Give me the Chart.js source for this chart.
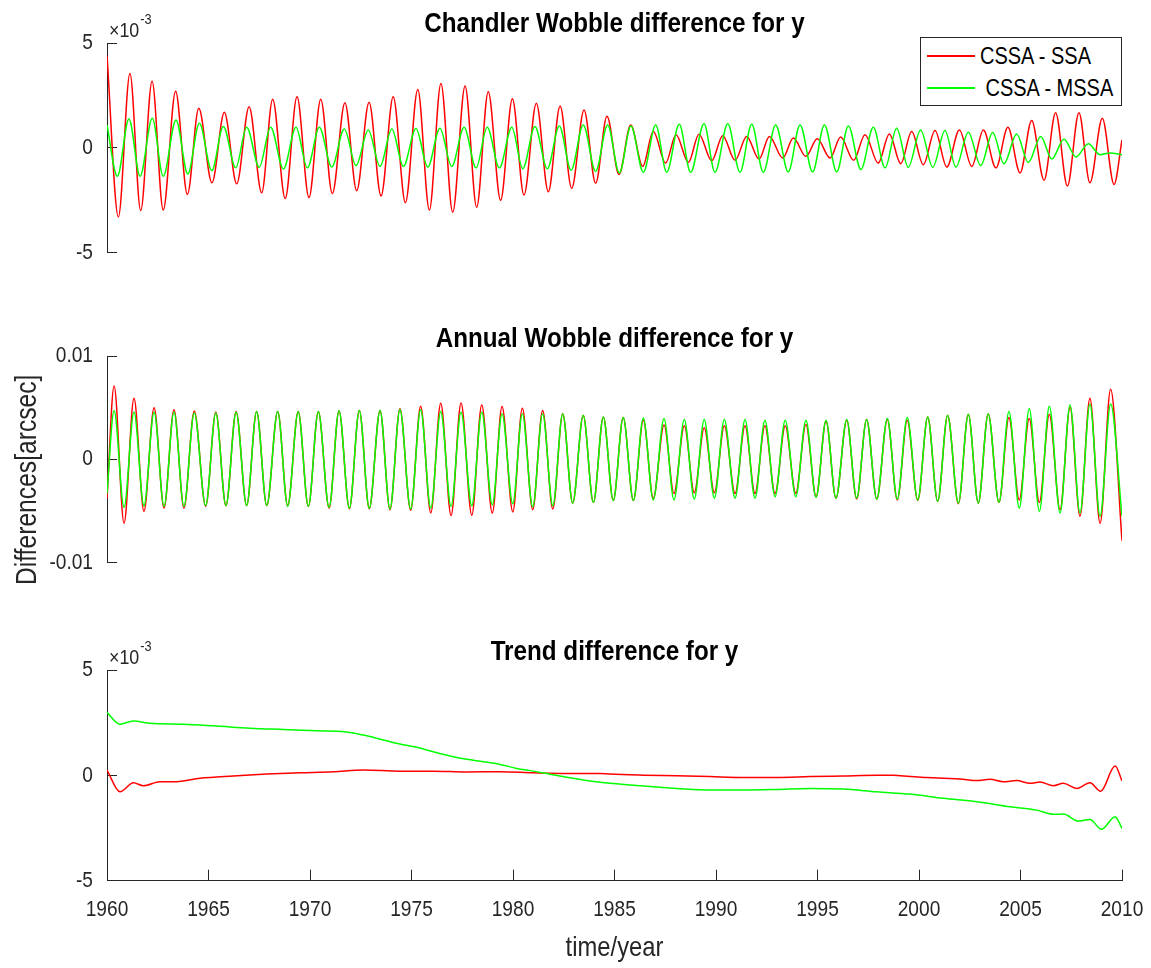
<!DOCTYPE html>
<html><head><meta charset="utf-8">
<script src="https://cdn.jsdelivr.net/npm/chart.js@4"></script>
<style>
html,body{margin:0;padding:0;background:#fff;}
#wrap{position:relative;width:1151px;height:968px;overflow:hidden;background:#fff;}
#wrap canvas{position:absolute;left:0;}
#legend{position:absolute;left:920px;top:37px;width:202px;height:69px;border:1px solid #262626;background:#fff;box-sizing:border-box;font-family:'Liberation Sans',Arial,Helvetica,sans-serif;}
.lg-row{position:absolute;left:6px;height:24px;display:flex;align-items:center;}
.lg-line{display:inline-block;width:48px;height:1.5px;margin-right:5px;}
.lg-text{font-size:23.5px;color:#000;white-space:pre;display:inline-block;transform:scaleX(0.85);transform-origin:0 50%;}
</style></head>
<body><div id="wrap">
<canvas id="c1" width="1151" height="290" style="top:0"></canvas>
<canvas id="c2" width="1151" height="310" style="top:290px"></canvas>
<canvas id="c3" width="1151" height="368" style="top:600px"></canvas>
<div id="legend"></div>
</div>
<script>
// ---------------- DATA (values in units of 1e-3 arcsec) ----------------
const seriesNames = ['CSSA - SSA', ' CSSA - MSSA'];
const xTickValues = [1960,1965,1970,1975,1980,1985,1990,1995,2000,2005,2010];
const xTickLabels = ['1960','1965','1970','1975','1980','1985','1990','1995','2000','2005','2010'];
const yTicksSmall = [-5,0,5];
const yLabelsSmall = ['-5','0','5'];
const yTicksAnnual = [-10,0,10];
const yLabelsAnnual = ['-0.01','0','0.01'];
const expText = ['\u00d710','-3'];

// Chandler wobble, CSSA - SSA (extrema)
const chandlerSsaT = [1960.00,1960.56,1961.13,1961.66,1962.22,1962.77,1963.38,1963.96,1964.52,1965.17,
1965.78,1966.39,1967.00,1967.62,1968.16,1968.78,1969.36,1969.95,1970.53,1971.10,
1971.72,1972.30,1972.91,1973.50,1974.10,1974.70,1975.31,1975.88,1976.45,1977.03,
1977.64,1978.21,1978.78,1979.39,1979.97,1980.54,1981.15,1981.74,1982.32,1982.89,
1983.50,1984.07,1984.63,1985.22,1985.80,1986.39,1986.91,1987.52,1988.03,1988.64,
1989.16,1989.79,1990.33,1990.94,1991.51,1992.12,1992.63,1993.29,1993.81,1994.43,
1994.99,1995.62,1996.14,1996.78,1997.34,1997.99,1998.54,1999.10,1999.64,2000.21,
2000.79,2001.37,2001.99,2002.60,2003.17,2003.79,2004.38,2004.98,2005.55,2006.16,
2006.73,2007.31,2007.88,2008.42,2009.03,2009.61,2010.00];
const chandlerSsaV = [4.4,-3.3,3.54,-3.0,3.17,-2.97,2.7,-2.23,1.88,-1.67,
1.69,-1.72,1.96,-2.15,2.32,-2.42,2.43,-2.38,2.32,-2.19,
2.15,-2.05,2.17,-2.3,2.43,-2.62,2.78,-2.97,3.07,-3.08,
2.95,-2.84,2.67,-2.51,2.34,-2.26,2.12,-2.1,1.99,-1.94,
1.8,-1.7,1.5,-1.28,1.09,-0.89,0.77,-0.73,0.62,-0.7,
0.65,-0.62,0.57,-0.6,0.54,-0.54,0.54,-0.49,0.46,-0.41,
0.43,-0.49,0.51,-0.6,0.62,-0.73,0.66,-0.76,0.77,-0.81,
0.82,-0.92,0.85,-0.89,0.85,-0.96,0.98,-1.2,1.3,-1.55,
1.67,-1.83,1.67,-1.67,1.41,-1.75,0.38];

// Chandler wobble, CSSA - MSSA
const chandlerMssaT = [1960.00,1960.51,1961.08,1961.63,1962.23,1962.77,1963.40,1963.98,1964.55,1965.16,
1965.73,1966.34,1966.88,1967.50,1968.06,1968.69,1969.31,1969.87,1970.46,1971.07,
1971.69,1972.27,1972.87,1973.45,1974.03,1974.60,1975.22,1975.80,1976.40,1976.98,
1977.59,1978.18,1978.73,1979.33,1979.94,1980.48,1981.08,1981.69,1982.28,1982.86,
1983.46,1984.07,1984.66,1985.24,1985.81,1986.42,1987.03,1987.57,1988.19,1988.75,
1989.41,1989.95,1990.58,1991.18,1991.76,1992.33,1992.94,1993.56,1994.14,1994.76,
1995.34,1995.95,1996.52,1997.14,1997.75,1998.33,1998.90,1999.47,2000.08,2000.68,
2001.28,2001.82,2002.43,2003.04,2003.63,2004.19,2004.81,2005.38,2006.00,2006.54,
2007.14,2007.73,2008.34,2008.92,2009.41,2010.00];
const chandlerMssaV = [1.09,-1.36,1.37,-1.36,1.41,-1.36,1.33,-1.25,1.17,-1.09,
1.01,-0.96,0.98,-0.93,0.98,-1.01,0.98,-0.96,0.98,-0.92,
0.89,-0.85,0.85,-0.89,0.89,-0.89,0.92,-0.92,0.93,-0.89,
0.98,-0.96,0.98,-0.96,0.98,-1.0,1.01,-1.0,1.04,-1.07,
1.09,-1.12,1.09,-1.2,1.04,-1.17,1.09,-1.17,1.12,-1.17,
1.14,-1.17,1.14,-1.17,1.12,-1.17,1.09,-1.15,1.09,-1.15,
1.09,-1.15,1.04,-1.04,0.98,-0.96,0.93,-0.93,0.85,-0.93,
0.82,-0.92,0.74,-0.85,0.73,-0.76,0.66,-0.7,0.54,-0.54,
0.41,-0.44,0.19,-0.33,-0.25,-0.33];

// Annual wobble (both series share extrema times)
const annualT = [1960.00,
1960.35,1960.84,1961.33,1961.82,1962.32,1962.81,1963.30,1963.79,1964.30,1964.86,
1965.36,1965.86,1966.36,1966.88,1967.37,1967.87,1968.41,1968.90,1969.42,1969.92,
1970.41,1970.94,1971.43,1971.94,1972.43,1972.92,1973.45,1973.94,1974.43,1974.96,
1975.45,1975.95,1976.44,1976.95,1977.44,1977.97,1978.46,1978.98,1979.46,1979.99,
1980.46,1980.97,1981.46,1981.96,1982.45,1982.94,1983.46,1983.96,1984.45,1984.94,
1985.43,1985.93,1986.42,1986.91,1987.44,1987.93,1988.44,1988.93,1989.42,1989.92,
1990.41,1990.94,1991.43,1991.92,1992.41,1992.91,1993.41,1993.93,1994.43,1994.93,
1995.42,1995.91,1996.44,1996.93,1997.42,1997.92,1998.44,1998.93,1999.42,1999.94,
2000.43,2000.92,2001.41,2001.94,2002.43,2002.92,2003.41,2003.94,2004.43,2004.94,
2005.43,2005.93,2006.42,2006.95,2007.44,2007.93,2008.42,2008.92,2009.44,
2010.00];
const annualSsaV = [-3.8,
7.09,-6.20,5.90,-5.04,4.98,-4.73,4.79,-4.73,4.67,-4.57,
4.57,-4.50,4.63,-4.50,4.63,-4.50,4.63,-4.50,4.63,-4.57,
4.63,-4.73,4.70,-4.79,4.73,-4.79,4.73,-4.88,4.89,-4.94,
5.14,-5.20,5.42,-5.45,5.45,-5.42,5.26,-5.20,5.10,-5.10,
4.95,-4.88,4.73,-4.82,4.41,-4.25,4.25,-4.19,4.10,-4.00,
4.04,-4.00,3.78,-3.78,3.31,-3.31,3.24,-3.24,3.06,-3.24,
3.24,-3.31,3.24,-3.31,3.24,-3.31,3.24,-3.31,3.37,-3.62,
3.69,-3.78,3.78,-3.85,3.85,-3.87,3.85,-3.94,3.78,-4.00,
4.10,-4.09,4.25,-4.31,4.35,-4.25,4.41,-4.19,4.04,-3.94,
3.94,-4.19,4.35,-4.88,5.04,-5.51,5.90,-6.20,6.78,
-7.9];
const annualMssaV = [-3.3,
4.73,-4.66,4.57,-4.50,4.57,-4.57,4.57,-4.57,4.50,-4.50,
4.50,-4.50,4.57,-4.50,4.63,-4.50,4.63,-4.57,4.63,-4.57,
4.63,-4.66,4.70,-4.73,4.73,-4.73,4.73,-4.82,4.82,-4.82,
4.79,-4.73,4.63,-4.57,4.57,-4.50,4.57,-4.41,4.41,-4.31,
4.41,-4.60,4.41,-4.50,4.41,-4.25,4.25,-4.19,4.10,-4.00,
4.04,-4.00,4.00,-3.94,3.94,-3.94,3.85,-3.85,3.85,-3.78,
3.85,-3.78,3.85,-3.78,3.78,-3.62,3.78,-3.62,3.78,-3.69,
3.78,-3.78,3.85,-3.78,3.85,-3.87,3.94,-3.87,4.04,-3.94,
4.10,-4.09,4.25,-4.25,4.35,-4.25,4.41,-4.19,4.63,-4.73,
4.89,-5.04,5.14,-5.20,5.26,-5.20,5.36,-5.51,5.36,
-5.5];

// Trend
const trendSsaT = [1960.00,1960.64,1961.30,1961.79,1962.61,1963.43,1964.58,1966.22,1967.86,1969.50,
1971.15,1972.63,1974.43,1976.07,1977.72,1979.36,1981.00,1982.65,1984.29,1984.78,
1986.42,1988.06,1989.70,1991.35,1992.99,1994.63,1996.27,1997.92,1998.73,1999.56,
2000.38,2001.20,2002.02,2002.84,2003.50,2004.15,2004.81,2005.47,2005.96,2006.62,
2007.11,2007.77,2008.42,2008.95,2009.66,2010.00];
const trendSsaV = [0.25,-0.78,-0.35,-0.49,-0.30,-0.30,-0.14,-0.03,0.06,0.12,
0.17,0.25,0.20,0.20,0.16,0.17,0.12,0.09,0.09,0.06,
0.01,-0.02,-0.06,-0.10,-0.10,-0.06,-0.03,0.00,0.00,-0.06,
-0.10,-0.14,-0.17,-0.25,-0.19,-0.30,-0.25,-0.38,-0.32,-0.49,
-0.38,-0.62,-0.35,-0.75,0.44,-0.26];
const trendMssaT = [1960.00,1960.64,1961.30,1962.12,1963.76,1965.40,1967.04,1968.69,1970.33,1971.72,
1972.63,1973.61,1974.43,1975.26,1976.07,1976.90,1977.72,1978.54,1979.36,1980.18,
1981.00,1981.82,1982.65,1983.46,1984.29,1984.78,1986.42,1988.06,1989.70,1991.35,
1992.99,1994.63,1996.27,1997.92,1999.56,2001.20,2002.84,2004.48,2005.80,2006.62,
2007.11,2007.85,2008.42,2008.99,2009.66,2010.00];
const trendMssaV = [2.99,2.43,2.58,2.47,2.43,2.34,2.24,2.18,2.12,2.07,
1.91,1.68,1.49,1.33,1.12,0.92,0.76,0.65,0.52,0.33,
0.20,0.05,-0.09,-0.22,-0.33,-0.38,-0.51,-0.62,-0.70,-0.70,
-0.67,-0.62,-0.65,-0.78,-0.89,-1.09,-1.25,-1.49,-1.65,-1.85,
-1.84,-2.17,-2.09,-2.56,-1.96,-2.52];

// ---------------- STYLE ----------------
const TEXT_SX = 0.85;
const FONT = "'Liberation Sans', Arial, Helvetica, sans-serif";
const AX = '#262626';
const RED = '#ff0000', GREEN = '#00ff00';
const TITLE_SIZE = 28.5, TITLE_LH = TITLE_SIZE * 1.2;
const TICK_SIZE = 22.5;

// condensed text rendering (figure text is horizontally compressed)
(function(){
  const P = CanvasRenderingContext2D.prototype;
  const fT = P.fillText, mT = P.measureText;
  P.fillText = function(t, x, y){
    this.save(); this.translate(x, y); this.scale(TEXT_SX, 1); fT.call(this, t, 0, 0); this.restore();
  };
  P.measureText = function(t){
    const m = mT.call(this, t);
    return {width: m.width * TEXT_SX,
      actualBoundingBoxAscent: m.actualBoundingBoxAscent, actualBoundingBoxDescent: m.actualBoundingBoxDescent,
      actualBoundingBoxLeft: m.actualBoundingBoxLeft * TEXT_SX, actualBoundingBoxRight: m.actualBoundingBoxRight * TEXT_SX,
      fontBoundingBoxAscent: m.fontBoundingBoxAscent, fontBoundingBoxDescent: m.fontBoundingBoxDescent};
  };
})();

function pts(t, v){ return t.map((x, i) => ({x: x, y: v[i]})); }

const expPlugin = {
  id: 'expLabel',
  afterDraw(chart, args, opts){
    if (!opts.display) return;
    const {ctx, chartArea} = chart;
    ctx.save();
    ctx.fillStyle = AX; ctx.textAlign = 'left'; ctx.textBaseline = 'alphabetic';
    ctx.font = '21px ' + FONT;
    const x0 = chartArea.left + 2;
    ctx.fillText(expText[0], x0, chartArea.top - 6);
    const w = ctx.measureText(expText[0]).width;
    ctx.font = '15px ' + FONT;
    ctx.fillText(expText[1], x0 + w + 1, chartArea.top - 19);
    ctx.restore();
  }
};

const htmlLegend = {
  id: 'htmlLegend',
  afterUpdate(chart, args, opts){
    if (!opts.containerID) return;
    const box = document.getElementById(opts.containerID);
    box.innerHTML = '';
    chart.data.datasets.forEach((ds, i) => {
      const row = document.createElement('div');
      row.className = 'lg-row'; row.style.top = opts.rowTops[i] + 'px';
      const sw = document.createElement('span'); sw.className = 'lg-line'; sw.style.background = ds.borderColor;
      const tx = document.createElement('span'); tx.className = 'lg-text'; tx.textContent = ds.label;
      row.append(sw, tx); box.append(row);
    });
  }
};

function yAxis(ticks, labels, title){
  return {
    type: 'linear', position: 'left', min: ticks[0], max: ticks[ticks.length-1],
    afterBuildTicks: s => { s.ticks = ticks.map(v => ({value: v})); },
    afterFit: s => { s.width = 107; },
    ticks: {callback: (v, i) => labels[i], color: AX, font: {family: FONT, size: TICK_SIZE}, padding: 24},
    grid: {drawOnChartArea: false, drawTicks: true, tickLength: -10, color: AX, lineWidth: 1},
    border: {display: true, color: AX, width: 1},
    title: title ? {display: true, text: title, color: AX, font: {family: FONT, size: 29}, padding: {top: 11, bottom: 0}} : {display: false}
  };
}

function makeChart(id, c){
  return new Chart(document.getElementById(id), {
    type: 'line',
    data: {datasets: [
      {label: seriesNames[0], data: c.red, borderColor: RED, backgroundColor: RED, order: 1},
      {label: seriesNames[1], data: c.green, borderColor: GREEN, backgroundColor: GREEN, order: 0}
    ]},
    options: {
      responsive: false, animation: false, devicePixelRatio: 1,
      elements: {line: {borderWidth: 1.5, cubicInterpolationMode: 'monotone'}, point: {radius: 0}},
      layout: {padding: {left: 0, right: 29, top: 0, bottom: c.padBottom}},
      plugins: {
        legend: {display: false}, tooltip: {enabled: false},
        title: {display: true, text: c.title, fullSize: false, color: '#000',
          font: {family: FONT, size: TITLE_SIZE, weight: 'bold', lineHeight: 1.2},
          padding: {top: c.tTop, bottom: Math.max(0, c.areaTop - c.tTop - TITLE_LH)}},
        expLabel: {display: c.exp},
        htmlLegend: c.legend || {}
      },
      scales: {x: c.x, y: c.y}
    },
    plugins: [expPlugin, htmlLegend]
  });
}

const xHidden = {type: 'linear', min: 1960, max: 2010, display: false};
const xShown = {
  type: 'linear', position: 'bottom', min: 1960, max: 2010,
  afterBuildTicks: s => { s.ticks = xTickValues.map(v => ({value: v})); },
  afterFit: s => { s.height = 87.3; },
  ticks: {callback: (v, i) => xTickLabels[i], color: AX, font: {family: FONT, size: TICK_SIZE, lineHeight: 3.32}, padding: 3, maxRotation: 0, autoSkip: false},
  grid: {drawOnChartArea: false, drawTicks: true, tickLength: -11, color: AX, lineWidth: 1},
  border: {display: true, color: AX, width: 1},
  title: {display: true, text: 'time/year', color: AX, font: {family: FONT, size: 28, lineHeight: 1.2}, padding: {top: 0, bottom: 3.2}}
};

makeChart('c1', {
  title: 'Chandler Wobble difference for y', tTop: 24 - TITLE_LH / 2, areaTop: 43,
  padBottom: 36, exp: true,
  red: pts(chandlerSsaT, chandlerSsaV), green: pts(chandlerMssaT, chandlerMssaV),
  x: xHidden, y: yAxis(yTicksSmall, yLabelsSmall, null),
  legend: {containerID: 'legend', rowTops: [6, 38]}
});
makeChart('c2', {
  title: 'Annual Wobble difference for y', tTop: 66 - TITLE_LH, areaTop: 66,
  padBottom: 32.3, exp: false,
  red: pts(annualT, annualSsaV), green: pts(annualT, annualMssaV),
  x: xHidden, y: yAxis(yTicksAnnual, yLabelsAnnual, 'Differences[arcsec]      ')
});
makeChart('c3', {
  title: 'Trend difference for y', tTop: 52 - TITLE_LH / 2, areaTop: 70,
  padBottom: 0, exp: true,
  red: pts(trendSsaT, trendSsaV), green: pts(trendMssaT, trendMssaV),
  x: xShown, y: yAxis(yTicksSmall, yLabelsSmall, null)
});
</script>
</body></html>
